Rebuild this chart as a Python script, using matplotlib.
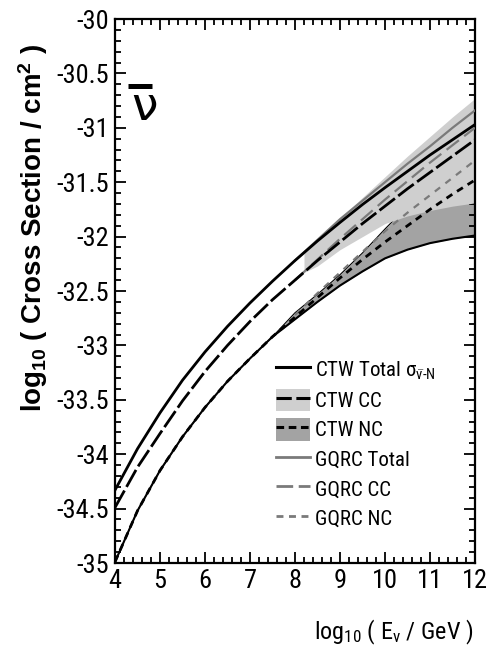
import matplotlib
matplotlib.use("Agg")
import matplotlib.pyplot as plt
from matplotlib import font_manager
from matplotlib.lines import Line2D
from matplotlib.patches import Patch
from matplotlib.ticker import MultipleLocator

# ---------------- data ----------------
x_main = [4, 4.5, 5, 5.5, 6, 6.5, 7, 7.5, 8, 8.5, 9, 9.5, 10, 10.5, 11, 11.5, 12]
ctw_total = [-34.33, -33.95, -33.62, -33.32, -33.06, -32.825, -32.61, -32.41, -32.22,
             -32.04, -31.87, -31.705, -31.55, -31.40, -31.25, -31.11, -30.97]
ctw_cc = [-34.49, -34.12, -33.81, -33.51, -33.24, -33.00, -32.78, -32.58, -32.40,
          -32.22, -32.05, -31.88, -31.72, -31.56, -31.41, -31.26, -31.11]
ctw_nc = [-34.99, -34.52, -34.15, -33.84, -33.57, -33.33, -33.12, -32.92, -32.74,
          -32.56, -32.38, -32.21, -32.05, -31.90, -31.75, -31.61, -31.48]

x_gq = [8, 8.5, 9, 9.5, 10, 10.5, 11, 11.5, 12]
gqrc_total = [-32.22, -32.03, -31.84, -31.67, -31.50, -31.33, -31.17, -31.00, -30.84]
gqrc_cc = [-32.40, -32.21, -32.02, -31.84, -31.66, -31.49, -31.32, -31.16, -31.00]
gqrc_nc = [-32.72, -32.52, -32.33, -32.14, -31.95, -31.78, -31.62, -31.46, -31.30]

# CC uncertainty band (light grey)
x_ccband = [8.2, 8.5, 9, 9.5, 10, 10.5, 11, 11.5, 12]
cc_band_hi = [-32.15, -32.03, -31.83, -31.64, -31.45, -31.26, -31.08, -30.90, -30.73]
cc_band_lo = [-32.33, -32.27, -32.12, -32.00, -31.88, -31.81, -31.76, -31.72, -31.69]

# NC uncertainty band (dark grey)
x_ncband = [4, 4.5, 5, 5.5, 6, 6.5, 7, 7.5, 8, 8.5, 9, 9.5, 10, 10.5, 11, 11.5, 12]
nc_band_hi = [-34.99, -34.52, -34.15, -33.84, -33.57, -33.33, -33.12, -32.92, -32.70,
              -32.53, -32.35, -32.15, -31.93, -31.72, -31.50, -31.29, -31.07]
nc_band_lo = [-34.99, -34.52, -34.15, -33.84, -33.57, -33.33, -33.12, -32.92, -32.76,
              -32.60, -32.45, -32.32, -32.20, -32.12, -32.06, -32.02, -31.99]

xticks = [4, 5, 6, 7, 8, 9, 10, 11, 12]
yticks = [-35, -34.5, -34, -33.5, -33, -32.5, -32, -31.5, -31, -30.5, -30]
ytick_labels = ["-35", "-34.5", "-34", "-33.5", "-33", "-32.5", "-32", "-31.5", "-31", "-30.5", "-30"]

legend_labels = [r"CTW Total $\sigma_{\bar{\nu}\text{-}N}$", "CTW CC", "CTW NC",
                 "GQRC Total", "GQRC CC", "GQRC NC"]

# ---------------- fonts ----------------
def pick(names):
    for n in names:
        try:
            font_manager.findfont(n, fallback_to_default=False)
            return n
        except Exception:
            pass
    return "DejaVu Sans"

narrow = pick(["Liberation Sans Narrow", "Arial Narrow", "Roboto Condensed", "Liberation Sans"])
wide = pick(["Liberation Sans", "Arial", "DejaVu Sans"])
plt.rcParams["mathtext.fontset"] = "custom"
plt.rcParams["mathtext.rm"] = narrow
plt.rcParams["mathtext.it"] = narrow
plt.rcParams["mathtext.sf"] = narrow

LIGHT = "#cfcfcf"
DARK = "#a3a3a3"
GRAY = "#7a7a7a"

fig = plt.figure(figsize=(4.91, 6.56), dpi=100)
ax = fig.add_axes([115/491, 1 - 563/656, 360/491, 544/656])

ax.fill_between(x_ncband, nc_band_lo, nc_band_hi, color=DARK, lw=0, zorder=1)
ax.plot(x_ncband, nc_band_hi, color="black", lw=0.8, zorder=2)
ax.fill_between(x_ccband, cc_band_lo, cc_band_hi, color=LIGHT, lw=0, zorder=2)
ax.plot(x_ncband, nc_band_lo, color="black", lw=1.5, zorder=3)

ax.plot(x_gq, gqrc_total, color=GRAY, lw=1.6, zorder=4)
ax.plot(x_gq, gqrc_cc, color=GRAY, lw=1.6, dashes=(7, 3), zorder=4)
ax.plot(x_gq, gqrc_nc, color=GRAY, lw=1.6, dashes=(3, 3), zorder=4)

ax.plot(x_main, ctw_total, color="black", lw=2.0, zorder=5)
ax.plot(x_main, ctw_cc, color="black", lw=2.0, dashes=(7, 1.5), zorder=5)
ax.plot(x_main, ctw_nc, color="black", lw=2.0, dashes=(2.5, 2), zorder=5)

ax.set_xlim(4, 12)
ax.set_ylim(-35, -30)
ax.set_xticks(xticks)
ax.set_yticks(yticks)
ax.set_yticklabels(ytick_labels)
ax.xaxis.set_minor_locator(MultipleLocator(0.2))
ax.yaxis.set_minor_locator(MultipleLocator(0.1))
ax.tick_params(which="both", direction="in", top=True, right=True, width=1.3, colors="black")
ax.tick_params(which="major", length=8, labelsize=19, pad=4)
ax.tick_params(which="minor", length=4)
for lab in ax.get_xticklabels() + ax.get_yticklabels():
    lab.set_family(narrow)
for s in ax.spines.values():
    s.set_linewidth(1.6)

fig.text(33/491, 1 - 228/656, r"log$_{\mathregular{10}}$ ( Cross Section / cm$^{\mathregular{2}}$ )",
         rotation=90, ha="center", va="center", fontsize=20, fontweight="bold", family=wide)
fig.text(473/491, 1 - 632/656, r"log$_{10}$ ( E$_{\nu}$ / GeV )", ha="right", va="center",
         fontsize=17.5, family=narrow)

# anti-neutrino symbol: glyph plus its bar
ax.text(0.081, 0.838, "ν", fontsize=34, family="DejaVu Sans", ha="center", va="center",
        transform=ax.transAxes)
ax.add_line(Line2D([0.036, 0.103], [0.877, 0.877], color="black", lw=3.6,
                   solid_capstyle="butt", transform=ax.transAxes))

handles = [
    Line2D([], [], color="black", lw=2.2),
    (Patch(facecolor=LIGHT, edgecolor="none"), Line2D([], [], color="black", lw=2.2, dashes=(5, 1.5))),
    (Patch(facecolor=DARK, edgecolor="none"), Line2D([], [], color="black", lw=2.2, dashes=(2.5, 1.5))),
    Line2D([], [], color=GRAY, lw=2),
    Line2D([], [], color=GRAY, lw=2, dashes=(6, 2)),
    Line2D([], [], color=GRAY, lw=2, dashes=(2.5, 2)),
]
leg = ax.legend(handles, legend_labels, loc="upper left", bbox_to_anchor=(276/491, 1 - 358/656),
                bbox_transform=fig.transFigure, frameon=False,
                prop={"family": narrow, "size": 15}, handlelength=1.65, handleheight=1.3,
                handletextpad=0.2, labelspacing=0.33, borderpad=0, borderaxespad=0)

fig.savefig("out.png", dpi=100)
